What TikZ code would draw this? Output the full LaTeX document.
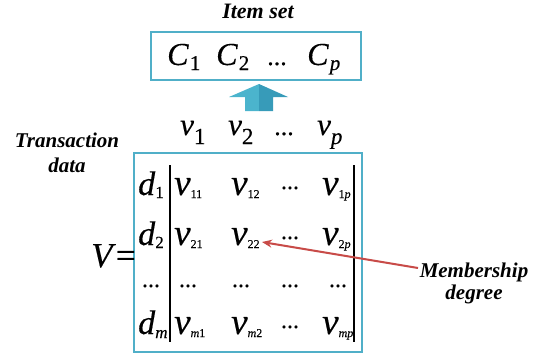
\documentclass[tikz,border=0pt]{standalone}
\usepackage{fontspec}
\setmainfont{Liberation Serif}
\newfontfamily\symfont{Liberation Serif}[FakeBold=0.3]
\usetikzlibrary{arrows.meta}
\definecolor{boxblue}{RGB}{80,175,200}
\definecolor{arrlight}{RGB}{75,180,205}
\definecolor{arrdark}{RGB}{55,155,185}
\definecolor{memred}{RGB}{200,75,72}
\newcommand{\fsz}[1]{\fontsize{#1}{#1}\selectfont}
\newcommand{\msub}[4]{\textit{#1}\raisebox{-#4}{\fsz{#3}#2}}
\begin{document}
\begin{tikzpicture}[x=1pt,y=-1pt,
  lbl/.style={font=\fsz{21}\bfseries\itshape, inner sep=0pt, anchor=base},
  sym/.style={inner sep=0pt, anchor=base west},
  dotsnode/.style={inner sep=0pt, anchor=base},
  framebox/.style={draw=boxblue, line width=1.7pt}]
\useasboundingbox (0,0) rectangle (543,356);
% Item set
\node[lbl, font=\fsz{22}\bfseries\itshape] (itemset) at (258,18) {Item set};
\draw[framebox] (151,32) rectangle (361,80);
\node[sym, font=\symfont\fsz{32}] (c1) at (167,65) {\msub{C}{\hspace{1pt}1}{21}{5pt}};
\node[sym, font=\symfont\fsz{32}] (c2) at (216,65) {\msub{C}{\hspace{1pt}2}{21}{5pt}};
\node[dotsnode, font=\symfont\fsz{26}] (cd) at (277,65) {...};
\node[sym, font=\symfont\fsz{32}] (cp) at (307,65) {\msub{C}{\hspace{1pt}\textit{p}}{21}{5pt}};
% block arrow
\fill[arrlight] (259,84) -- (229,97) -- (245,97) -- (245,111) -- (259,111) -- cycle;
\fill[arrdark] (259,84) -- (288,97) -- (273,97) -- (273,111) -- (259,111) -- cycle;
% v row
\node[sym, font=\symfont\fsz{31}] (v1) at (180,135) {\msub{v}{1}{23}{9pt}};
\node[sym, font=\symfont\fsz{31}] (v2) at (228,135) {\msub{v}{2}{23}{9pt}};
\node[dotsnode, font=\symfont\fsz{26}] (vd) at (284,135) {...};
\node[sym, font=\symfont\fsz{31}] (vp) at (317,135) {\msub{v}{\textit{p}}{23}{9pt}};
% transaction data
\node[lbl] (trans) at (67,147) {Transaction};
\node[lbl] (data) at (67,172) {data};
% membership
\node[lbl] (memb) at (474,277) {Membership};
\node[lbl] (degr) at (474,299) {degree};
% matrix box
\draw[framebox] (134,153) rectangle (362,352);
\coordinate (lbtop) at (170,165);
\coordinate (lbbot) at (170,342);
\coordinate (rbtop) at (354,165);
\coordinate (rbbot) at (354,342);
\draw[line width=1.1pt] (lbtop) -- (lbbot);
\draw[line width=1.1pt] (rbtop) -- (rbbot);
% V =
\node[inner sep=0pt, anchor=base west, font=\symfont\fsz{35}] (V) at (91,267) {\textit{V}=};
% rows
\node[sym, font=\symfont\fsz{34}] (d1) at (138,195) {\msub{d}{1}{17}{3pt}};
\node[sym, font=\symfont\fsz{37}] (v11) at (174,195) {\msub{v}{11}{12}{3pt}};
\node[sym, font=\symfont\fsz{37}] (v12) at (231,195) {\msub{v}{12}{12}{3pt}};
\node[dotsnode, font=\symfont\fsz{24}] (r1d) at (290,189) {...};
\node[sym, font=\symfont\fsz{37}] (v1p) at (322,195) {\msub{v}{1\textit{p}}{12}{3pt}};

\node[sym, font=\symfont\fsz{34}] (d2) at (138,245) {\msub{d}{2}{17}{3pt}};
\node[sym, font=\symfont\fsz{37}] (v21) at (174,245) {\msub{v}{21}{12}{3pt}};
\node[sym, font=\symfont\fsz{37}] (v22) at (231,245) {\msub{v}{22}{12}{3pt}};
\node[dotsnode, font=\symfont\fsz{24}] (r2d) at (290,239) {...};
\node[sym, font=\symfont\fsz{37}] (v2p) at (322,245) {\msub{v}{2\textit{p}}{12}{3pt}};

\node[dotsnode, font=\symfont\fsz{24}] (r3a) at (151,287) {...};
\node[dotsnode, font=\symfont\fsz{24}] (r3b) at (188,287) {...};
\node[dotsnode, font=\symfont\fsz{24}] (r3c) at (241,287) {...};
\node[dotsnode, font=\symfont\fsz{24}] (r3d) at (290,287) {...};
\node[dotsnode, font=\symfont\fsz{24}] (r3e) at (338,287) {...};

\node[sym, font=\symfont\fsz{34}] (dm) at (138,334) {\msub{d}{\textit{m}}{17}{4pt}};
\node[sym, font=\symfont\fsz{37}] (vm1) at (174,334) {\msub{v}{\textit{m}1}{12}{3pt}};
\node[sym, font=\symfont\fsz{37}] (vm2) at (231,334) {\msub{v}{\textit{m}2}{12}{3pt}};
\node[dotsnode, font=\symfont\fsz{24}] (r4d) at (290,328) {...};
\node[sym, font=\symfont\fsz{37}] (vmp) at (322,334) {\msub{v}{\textit{mp}}{12}{3pt}};
% red arrow
\coordinate (mstart) at (418,268);
\coordinate (mend) at (262,242);
\draw[memred, line width=2pt, -{Stealth[length=10pt,width=8pt]}] (mstart) -- (mend);
\end{tikzpicture}
\end{document}
